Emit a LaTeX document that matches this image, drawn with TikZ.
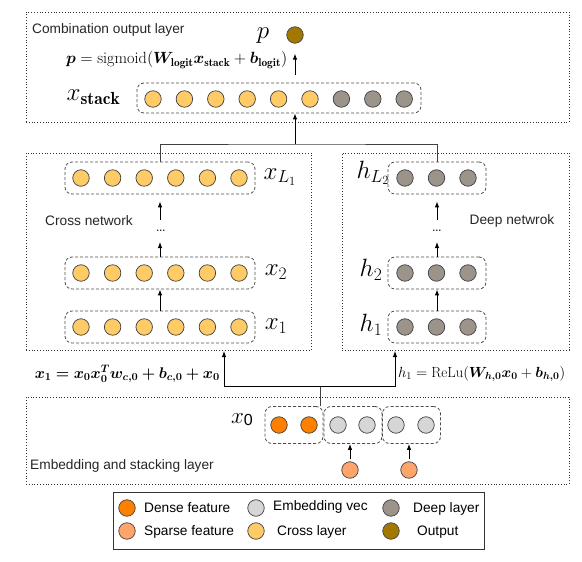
\RequirePackage{fix-cm}
\documentclass[tikz,border=0pt]{standalone}
\usepackage{fontspec}
\setsansfont{Liberation Sans}
\usepackage{amsmath}
\usepackage{bm}
\usepackage{graphicx}
\usetikzlibrary{arrows.meta}
\definecolor{crossc}{HTML}{FFCB66}
\definecolor{deepc}{HTML}{9C938A}
\definecolor{outc}{HTML}{A37800}
\definecolor{densec}{HTML}{FF7F00}
\definecolor{sparsec}{HTML}{FFA46B}
\definecolor{embc}{HTML}{D6D6D6}
\tikzset{
  neu/.style={circle, draw=black!75, line width=0.7pt, minimum size=16.5pt, inner sep=0pt},
  grp/.style={draw=black!70, dash pattern=on 3pt off 2pt, rounded corners=7pt, line width=0.8pt, inner sep=0pt},
  area/.style={draw=black!80, dash pattern=on 0.8pt off 2pt, line width=0.8pt, inner sep=0pt},
  arr/.style={-{Latex[length=6pt,width=4.5pt]}, line width=0.9pt},
  conn/.style={line width=0.8pt, draw=black!75},
  lbl/.style={font=\fontsize{13.7}{16}\sffamily, text=black!85, inner sep=0pt},
  leg/.style={font=\fontsize{13.7}{16}\sffamily, text=black, inner sep=0pt, anchor=west},
  big/.style={font=\fontsize{25}{29}\selectfont, inner sep=0pt},
  eqn/.style={font=\fontsize{15}{18}\selectfont, inner sep=0pt}
}
\begin{document}
\begin{tikzpicture}[x=1pt,y=-1pt]
\useasboundingbox (0,0) rectangle (582,562);
% ---------- output layer ----------
\node[area, minimum width=543pt, minimum height=110pt] (outarea) at (297.5,67) {};
\node[lbl, anchor=west] (outtxt) at (32,30) {Combination output layer};
\node[big] (plbl) at (263,36) {$p$};
\node[neu, fill=outc] (p) at (295,35) {};
\node[eqn, anchor=west] (peq) at (66,60) {\resizebox{221pt}{!}{$\bm{p} = \mathrm{sigmoid}(\bm{W}_{\mathbf{logit}}\bm{x}_{\mathbf{stack}} + \bm{b}_{\mathbf{logit}})$}};
\node[big] (xs) at (93.5,97) {$x_{\mathbf{stack}}$};
\node[grp, minimum width=284pt, minimum height=30pt] (stackbox) at (279,98) {};
\foreach \i in {0,...,5} \node[neu, fill=crossc] (s\i) at (153+31.4*\i,99) {};
\foreach \i in {6,7,8} \node[neu, fill=deepc] (s\i) at (153+31.4*\i,99) {};
\draw[arr, shorten <=8pt, shorten >=10pt] (p |- stackbox.north) -- (p.south);
% ---------- cross / deep ----------
\node[area, minimum width=285pt, minimum height=197pt] (crossarea) at (168.5,251.5) {};
\node[area, minimum width=227pt, minimum height=197pt] (deeparea) at (455.5,251.5) {};
\foreach \n/\y in {xL/178, xb/273, xa/327}{
  \node[grp, minimum width=190pt, minimum height=32pt] (\n-box) at (160,\y) {};
  \foreach \i in {0,...,5} \node[neu, fill=crossc] (\n-\i) at (81+31.6*\i,\y) {};
}
\foreach \n/\y in {hL/178, hb/273, ha/327}{
  \node[grp, minimum width=98pt, minimum height=32pt] (\n-box) at (437,\y) {};
  \foreach \i in {0,1,2} \node[neu, fill=deepc] (\n-\i) at (405+31.5*\i,\y) {};
}
\node[big] (xLl) at (280,177) {$x_{L_1}$};
\node[big] (xbl) at (276,272) {$x_2$};
\node[big] (xal) at (276,326) {$x_1$};
\node[big] (hLl) at (373,173) {$h_{L_2}$};
\node[big] (hbl) at (371,270) {$h_2$};
\node[big] (hal) at (371,325) {$h_1$};
\node[lbl] (crosstxt) at (89,221) {Cross network};
\node[lbl] (deeptxt) at (512,221) {Deep netwrok};
\node[font=\fontsize{18}{20}\selectfont, inner sep=0pt] (cdots) at (161,231) {\ldots};
\node[font=\fontsize{18}{20}\selectfont, inner sep=0pt] (hdots) at (437,231) {\ldots};
\coordinate (cdl) at (160,242);
\coordinate (cdu) at (160,220);
\coordinate (hdl) at (437,242);
\coordinate (hdu) at (437,220);
\draw[arr] (xa-box.north) -- (xb-box.south);
\draw[arr] (xb-box.north) -- (cdl);
\draw[arr, shorten >=7pt] (cdu) -- (xL-box.south);
\draw[arr] (ha-box.north) -- (hb-box.south);
\draw[arr] (hb-box.north) -- (hdl);
\draw[arr, shorten >=7pt] (hdu) -- (hL-box.south);
\coordinate (jt) at (295,144);
\draw[conn] (xL-box.north) |- (jt) -| (hL-box.north);
\draw[arr] (jt) -- (stackbox.south -| jt);
% ---------- equations ----------
\node[eqn, anchor=east] (x1eq) at (220,374) {\resizebox{185pt}{!}{$\bm{x_1 = x_0 x_0^T w_{c,0} + b_{c,0} + x_0}$}};
\node[eqn, anchor=west] (h1eq) at (398,374) {\resizebox{167pt}{!}{$h_1 = \mathrm{ReLu}(\bm{W_{h,0}x_0} + \bm{b_{h,0}})$}};
% ---------- embedding ----------
\node[area, minimum width=543pt, minimum height=87pt] (embarea) at (297.5,440.5) {};
\node[lbl, anchor=west] (embtxt) at (30,466) {Embedding and stacking layer};
\node[inner sep=0pt] (x0l) at (242,420) {\fontsize{23}{27}\selectfont$x$\raisebox{-2pt}{\fontsize{16}{19}\sffamily 0}};
\node[grp, minimum width=58pt, minimum height=37pt] (g1) at (294,425) {};
\node[grp, minimum width=58pt, minimum height=37pt] (g2) at (353,425) {};
\node[grp, minimum width=58pt, minimum height=37pt] (g3) at (411.5,425) {};
\node[neu, fill=densec] (d1) at (279,425) {};
\node[neu, fill=densec] (d2) at (309,425) {};
\node[neu, fill=embc] (e1) at (338,425) {};
\node[neu, fill=embc] (e2) at (367,425) {};
\node[neu, fill=embc] (e3) at (396,425) {};
\node[neu, fill=embc] (e4) at (426,425) {};
\node[neu, fill=sparsec] (sp1) at (350,470) {};
\node[neu, fill=sparsec] (sp2) at (409,470) {};
\draw[arr, shorten <=2pt] (sp1.north) -- (sp1 |- g2.south);
\draw[arr, shorten <=2pt] (sp2.north) -- (sp2 |- g3.south);
\coordinate (split) at (320,386);
\coordinate (ltip) at (224,351);
\coordinate (rtip) at (395,351);
\draw[conn] (g1.north -| split) -- (split);
\draw[arr] (split) -| (ltip);
\draw[arr] (split) -| (rtip);
% ---------- legend ----------
\node[draw=black!80, line width=0.9pt, minimum width=371pt, minimum height=57pt, inner sep=0pt] (legend) at (298.5,520.5) {};
\node[neu, fill=densec] (lg1) at (127,508) {};
\node[leg] (lt1) at (144,508) {Dense feature};
\node[neu, fill=sparsec] (lg2) at (127,531) {};
\node[leg] (lt2) at (144,532) {Sparse feature};
\node[neu, fill=embc] (lg3) at (256,508) {};
\node[leg] (lt3) at (273,507) {Embedding vec};
\node[neu, fill=crossc] (lg4) at (256,531) {};
\node[leg] (lt4) at (277,532) {Cross layer};
\node[neu, fill=deepc] (lg5) at (391,508) {};
\node[leg] (lt5) at (413,509) {Deep layer};
\node[neu, fill=outc] (lg6) at (391,531) {};
\node[leg] (lt6) at (417,532) {Output};
\end{tikzpicture}
\end{document}
